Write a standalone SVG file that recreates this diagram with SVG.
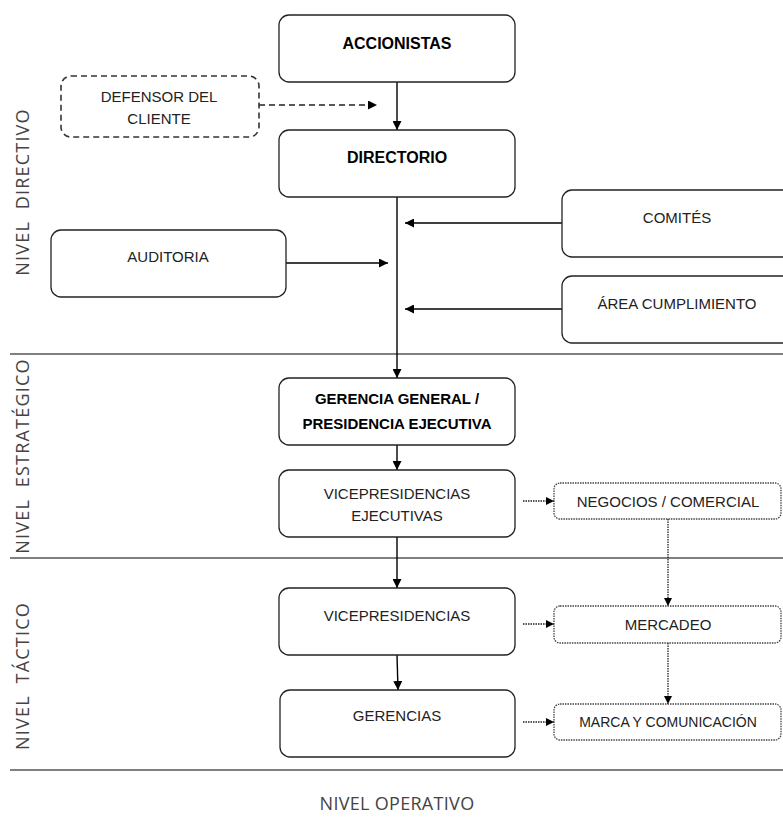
<svg xmlns="http://www.w3.org/2000/svg" width="783" height="827" viewBox="0 0 783 827">
  <defs>
    <marker id="arrow" viewBox="0 0 10 10" refX="10" refY="5" markerWidth="9" markerHeight="9" markerUnits="userSpaceOnUse" orient="auto">
      <path d="M0,0 L10,5 L0,10 z" fill="#000"/>
    </marker>
    <marker id="arrowSmall" viewBox="0 0 10 10" refX="10" refY="5" markerWidth="8" markerHeight="8" markerUnits="userSpaceOnUse" orient="auto">
      <path d="M0,0 L10,5 L0,10 z" fill="#000"/>
    </marker>
  </defs>
  <style>
    .box { fill: #fff; stroke: #222; stroke-width: 1.3; }
    .dashed { fill: #fff; stroke: #333; stroke-width: 1.6; stroke-dasharray: 6 4; }
    .dotted { fill: #fff; stroke: #444; stroke-width: 1.3; stroke-dasharray: 1.5 1; }
    .label { font-family: "Liberation Sans", Arial, sans-serif; font-size: 15px; fill: #222; text-anchor: middle; }
    .bold { font-weight: bold; fill: #000; }
    .level { font-family: "Open Sans", "Liberation Sans", sans-serif; font-size: 18px; fill: #444; text-anchor: middle; letter-spacing: 1.2px; white-space: pre; }
    .sep { stroke: #555; stroke-width: 1.6; }
    .link { stroke: #000; stroke-width: 1.4; fill: none; }
    .link-dash { stroke: #222; stroke-width: 1.6; stroke-dasharray: 6 4; fill: none; }
    .link-dot { stroke: #222; stroke-width: 1.3; stroke-dasharray: 1.5 1; fill: none; }
  </style>

  <rect width="783" height="827" fill="#fff"/>

  <!-- level separators -->
  <g id="separators">
    <line class="sep" x1="10" y1="354" x2="783" y2="354"/>
    <line class="sep" x1="10" y1="558" x2="783" y2="558"/>
    <line class="sep" x1="10" y1="770" x2="783" y2="770"/>
  </g>

  <!-- level labels -->
  <g id="levels">
    <text class="level" transform="translate(29,192) rotate(-90)" xml:space="preserve">NIVEL  DIRECTIVO</text>
    <text class="level" transform="translate(29,456) rotate(-90)" xml:space="preserve">NIVEL  ESTRATÉGICO</text>
    <text class="level" transform="translate(29,676) rotate(-90)" xml:space="preserve">NIVEL  TÁCTICO</text>
    <text class="level" x="397" y="810" style="letter-spacing:0.3px">NIVEL OPERATIVO</text>
  </g>

  <!-- connectors -->
  <g id="connectors">
    <line class="link" x1="397" y1="82" x2="397" y2="130" marker-end="url(#arrow)"/>
    <line class="link-dash" x1="259" y1="105" x2="377" y2="105" marker-end="url(#arrow)"/>
    <line class="link" x1="397" y1="197" x2="397" y2="378" marker-end="url(#arrow)"/>
    <line class="link" x1="562" y1="223" x2="405" y2="223" marker-end="url(#arrow)"/>
    <line class="link" x1="286" y1="263" x2="388" y2="263" marker-end="url(#arrow)"/>
    <line class="link" x1="562" y1="309" x2="405" y2="309" marker-end="url(#arrow)"/>
    <line class="link" x1="397" y1="445" x2="397" y2="470" marker-end="url(#arrow)"/>
    <line class="link" x1="397" y1="537" x2="397" y2="588" marker-end="url(#arrow)"/>
    <line class="link" x1="397" y1="655" x2="398" y2="690" marker-end="url(#arrow)"/>
    <line class="link-dot" x1="523" y1="501" x2="554" y2="501" marker-end="url(#arrowSmall)"/>
    <line class="link-dot" x1="523" y1="624" x2="554" y2="624" marker-end="url(#arrowSmall)"/>
    <line class="link-dot" x1="523" y1="722" x2="554" y2="722" marker-end="url(#arrowSmall)"/>
    <line class="link-dot" x1="668" y1="519" x2="668" y2="606" marker-end="url(#arrowSmall)"/>
    <line class="link-dot" x1="668" y1="643" x2="668" y2="704" marker-end="url(#arrowSmall)"/>
  </g>

  <g id="accionistas">
    <rect class="box" x="279" y="15" width="236" height="67" rx="10"/>
    <text class="label bold" x="397" y="49" style="font-size:16px">ACCIONISTAS</text>
  </g>

  <g id="defensor">
    <rect class="dashed" x="61" y="76" width="198" height="61" rx="10"/>
    <text class="label" x="159" y="102">DEFENSOR DEL</text>
    <text class="label" x="159" y="124">CLIENTE</text>
  </g>

  <g id="directorio">
    <rect class="box" x="279" y="130" width="236" height="67" rx="10"/>
    <text class="label bold" x="397" y="163" style="font-size:16px">DIRECTORIO</text>
  </g>

  <g id="comites">
    <rect class="box" x="562" y="190" width="240" height="67" rx="10"/>
    <text class="label" x="677" y="223">COMITÉS</text>
  </g>

  <g id="auditoria">
    <rect class="box" x="51" y="230" width="235" height="67" rx="10"/>
    <text class="label" x="168" y="262">AUDITORIA</text>
  </g>

  <g id="cumplimiento">
    <rect class="box" x="562" y="276" width="240" height="67" rx="10"/>
    <text class="label" x="677" y="309">ÁREA CUMPLIMIENTO</text>
  </g>

  <g id="gerencia-general">
    <rect class="box" x="279" y="378" width="236" height="67" rx="10"/>
    <text class="label bold" x="397" y="404">GERENCIA GENERAL /</text>
    <text class="label bold" x="397" y="429">PRESIDENCIA EJECUTIVA</text>
  </g>

  <g id="vp-ejecutivas">
    <rect class="box" x="279" y="470" width="236" height="67" rx="10"/>
    <text class="label" x="397" y="499">VICEPRESIDENCIAS</text>
    <text class="label" x="397" y="521">EJECUTIVAS</text>
  </g>

  <g id="negocios">
    <rect class="dotted" x="554" y="483" width="227" height="36" rx="6"/>
    <text class="label" x="668" y="507">NEGOCIOS / COMERCIAL</text>
  </g>

  <g id="vicepresidencias">
    <rect class="box" x="279" y="588" width="236" height="67" rx="10"/>
    <text class="label" x="397" y="621">VICEPRESIDENCIAS</text>
  </g>

  <g id="mercadeo">
    <rect class="dotted" x="554" y="606" width="227" height="37" rx="6"/>
    <text class="label" x="668" y="630">MERCADEO</text>
  </g>

  <g id="gerencias">
    <rect class="box" x="280" y="690" width="235" height="67" rx="10"/>
    <text class="label" x="397" y="721">GERENCIAS</text>
  </g>

  <g id="marca">
    <rect class="dotted" x="554" y="704" width="227" height="36" rx="6"/>
    <text class="label" x="668" y="727" style="font-size:14px">MARCA Y COMUNICACIÓN</text>
  </g>
</svg>
